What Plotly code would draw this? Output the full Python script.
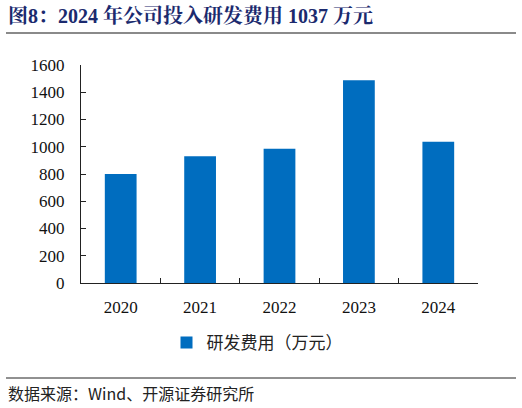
import plotly.graph_objects as go

years = ["2020", "2021", "2022", "2023", "2024"]
rd_cost = [800, 930, 985, 1488, 1037]
y_ticks = [0, 200, 400, 600, 800, 1000, 1200, 1400, 1600]

title_text = "图8：2024 年公司投入研发费用 1037 万元"
source_text = "数据来源：Wind、开源证券研究所"
series_name = "研发费用（万元）"

W, H = 522, 408
L, R, T, B = 81, 44, 65, 125

serif = "Liberation Serif, Times New Roman, Noto Serif CJK SC, Noto Sans CJK SC, serif"


def px_x(px):
    # page pixel -> paper x
    return (px - L) / (W - L - R)


def px_y(py):
    # page pixel -> paper y
    return (H - B - py) / (H - T - B)


fig = go.Figure()
fig.add_trace(go.Bar(
    x=years,
    y=rd_cost,
    name=series_name,
    marker=dict(color="#006DBF", line=dict(width=0)),
))

fig.update_layout(
    width=W, height=H,
    margin=dict(l=L, r=R, t=T, b=B),
    paper_bgcolor="white",
    plot_bgcolor="white",
    bargap=0.6,
    font=dict(family=serif, size=17, color="#111111"),
    showlegend=True,
    legend=dict(
        orientation="h",
        x=px_x(257), xanchor="center",
        y=px_y(343), yanchor="middle",
        font=dict(family="Noto Sans CJK SC", size=17, color="#222222"),
        itemwidth=30,
    ),
)

fig.update_xaxes(
    showline=True, linecolor="#222222", linewidth=1,
    ticks="inside", ticklen=5, tickcolor="#222222",
    tickson="boundaries",
    ticklabelstandoff=9,
    showgrid=False,
)
fig.update_yaxes(
    range=[0, 1600],
    tickvals=y_ticks,
    showline=True, linecolor="#222222", linewidth=1,
    ticks="inside", ticklen=5, tickcolor="#222222",
    ticklabelstandoff=12,
    showgrid=False, zeroline=False,
)

# title and its grey rule
fig.add_annotation(
    text="<b>" + title_text + "</b>",
    xref="paper", yref="paper",
    x=px_x(6), y=px_y(15), xanchor="left", yanchor="middle",
    showarrow=False,
    font=dict(family=serif, size=20, color="#1B2A6E"),
)
fig.add_shape(
    type="line", xref="paper", yref="paper",
    x0=px_x(6), x1=px_x(516), y0=px_y(33), y1=px_y(33),
    line=dict(color="#8A8A8A", width=2),
)

# footer
fig.add_shape(
    type="line", xref="paper", yref="paper",
    x0=px_x(6), x1=px_x(516), y0=px_y(378), y1=px_y(378),
    line=dict(color="#222222", width=1),
)
fig.add_annotation(
    text=source_text,
    xref="paper", yref="paper",
    x=px_x(6), y=px_y(393), xanchor="left", yanchor="middle",
    showarrow=False,
    font=dict(family="Noto Sans CJK SC", size=16, color="#222222"),
)

# drop the default page margin so the figure sits at the window's corner
fig.write_html(
    "out.html",
    config={"displayModeBar": False},
    post_script="document.body.style.margin='0';",
)
